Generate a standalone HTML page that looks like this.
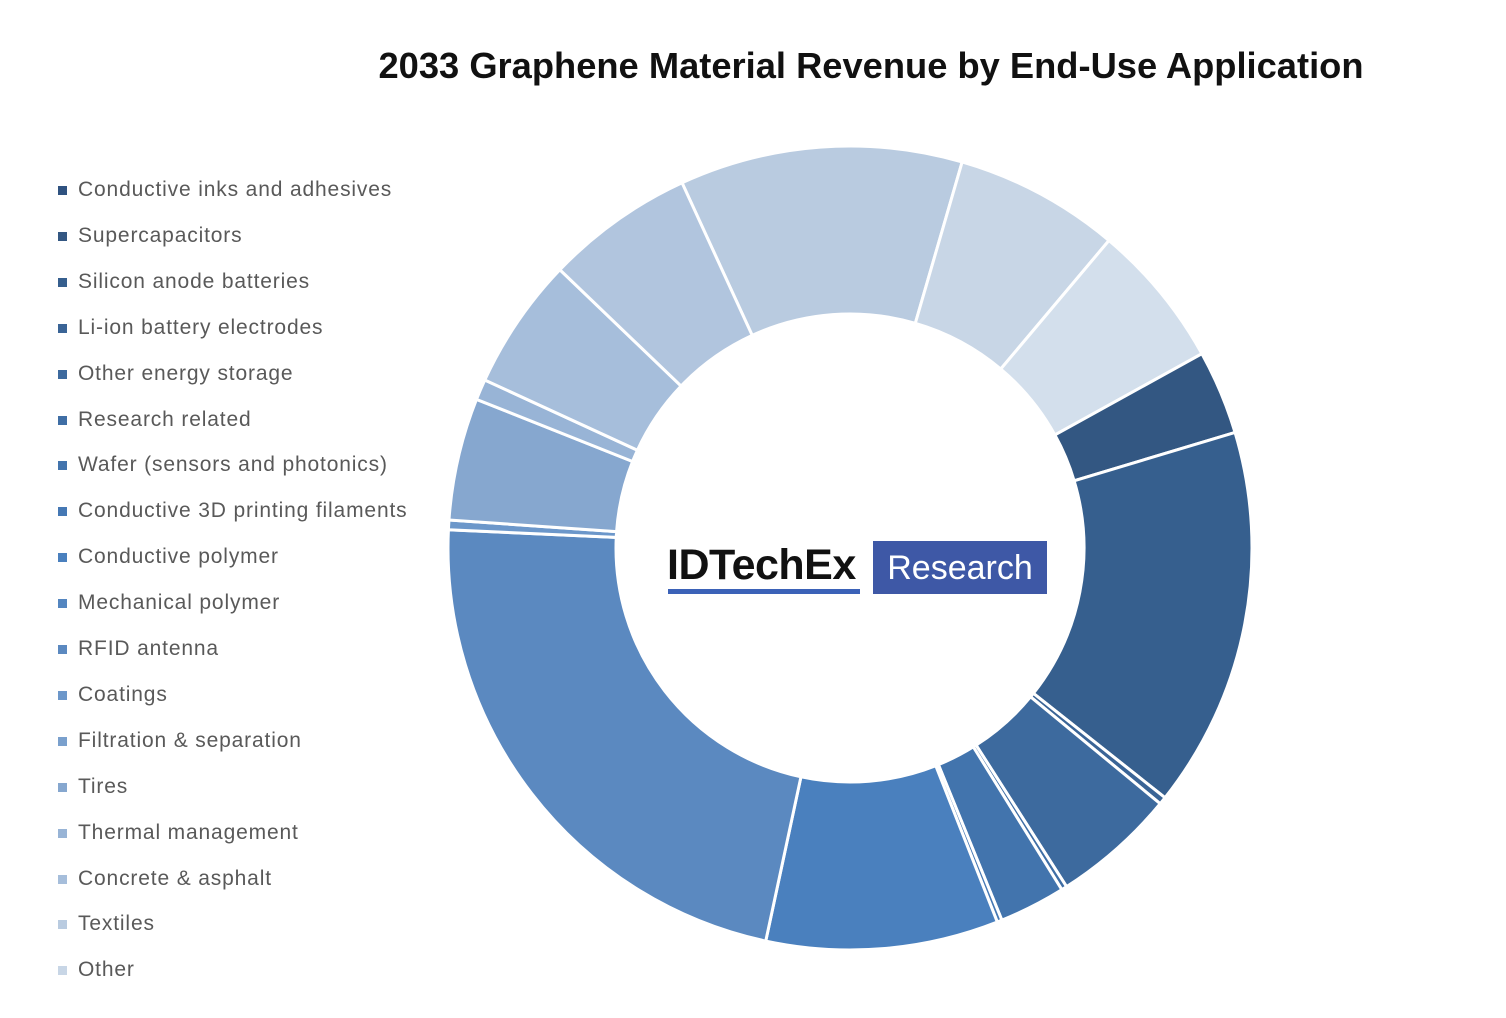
<!DOCTYPE html>
<html><head><meta charset="utf-8"><style>
html,body{margin:0;padding:0;background:#fff;}
body{width:1506px;height:1018px;position:relative;overflow:hidden;font-family:"Liberation Sans",sans-serif;}
.title{position:absolute;left:0;width:1742px;top:45px;text-align:center;font-weight:bold;font-size:36.3px;color:#111;}
.leg{position:absolute;left:58px;font-size:21px;color:#595959;height:24px;line-height:24px;letter-spacing:0.85px;}
.leg i{display:inline-block;width:9px;height:9px;margin-right:11px;vertical-align:1px;}
</style></head><body>
<div class="title">2033 Graphene Material Revenue by End-Use Application</div>
<svg id="s" width="1506" height="1018" style="position:absolute;left:0;top:0"></svg>
<div id="lg"></div>
<div style="position:absolute;left:667px;top:540px;font-size:43px;font-weight:bold;color:#111;letter-spacing:-0.5px;line-height:50px">IDTechEx</div>
<div style="position:absolute;left:668px;top:589px;width:192px;height:5px;background:#3b62b8"></div>
<div style="position:absolute;left:873px;top:541px;width:174px;height:53px;background:#3e58a6;color:#fff;font-size:34px;line-height:55px;text-align:center">Research</div>
<script>
var cx=850,cy=548,R=402,r=234;
var segs=[[335.3,376.2,"#b9cbe0"],[16.2,40.1,"#c8d6e6"],[40.1,61.1,"#d3dfec"],[61.1,73.3,"#335782"],[73.3,128.4,"#365f8e"],[128.4,129.5,"#3a6496"],[129.5,147.4,"#3d6a9e"],[147.4,148.2,"#3f6ea5"],[148.2,157.8,"#4274ad"],[157.8,158.5,"#4578b4"],[158.5,192.1,"#4a80be"],[192.1,272.6,"#5b89c0"],[272.6,274,"#6c97ca"],[274,291.7,"#86a7cf"],[291.7,294.7,"#98b4d6"],[294.7,313.8,"#a6bedb"],[313.8,335.3,"#b1c5de"]];
function p(a,rr){a=a*Math.PI/180;return [cx+rr*Math.sin(a),cy-rr*Math.cos(a)];}
var h="";
segs.forEach(function(s){var a=s[0],b=s[1],l=(b-a)>180?1:0;
var p1=p(a,R),p2=p(b,R),p3=p(b,r),p4=p(a,r);
h+='<path d="M'+p1+' A'+R+','+R+' 0 '+l+' 1 '+p2+' L'+p3+' A'+r+','+r+' 0 '+l+' 0 '+p4+' Z" fill="'+s[2]+'" stroke="#fff" stroke-width="3"/>';});
document.getElementById('s').innerHTML=h;
var names=["Conductive inks and adhesives","Supercapacitors","Silicon anode batteries","Li-ion battery electrodes","Other energy storage","Research related","Wafer (sensors and photonics)","Conductive 3D printing filaments","Conductive polymer","Mechanical polymer","RFID antenna","Coatings","Filtration &amp; separation","Tires","Thermal management","Concrete &amp; asphalt","Textiles","Other"];
var cols=["#2f5280","#335782","#365f8e","#3a6496","#3d6a9e","#3f6ea5","#4274ad","#4578b4","#4a80be","#5486c0","#5b89c0","#6c97ca","#7aa0cd","#86a7cf","#98b4d6","#a6bedb","#b9cbe0","#c8d6e6"];
var g="";names.forEach(function(n,i){g+='<div class="leg" style="top:'+(178+i*45.9)+'px"><i style="background:'+cols[i]+'"></i>'+n+'</div>';});
document.getElementById('lg').innerHTML=g;
</script>
</body></html>
